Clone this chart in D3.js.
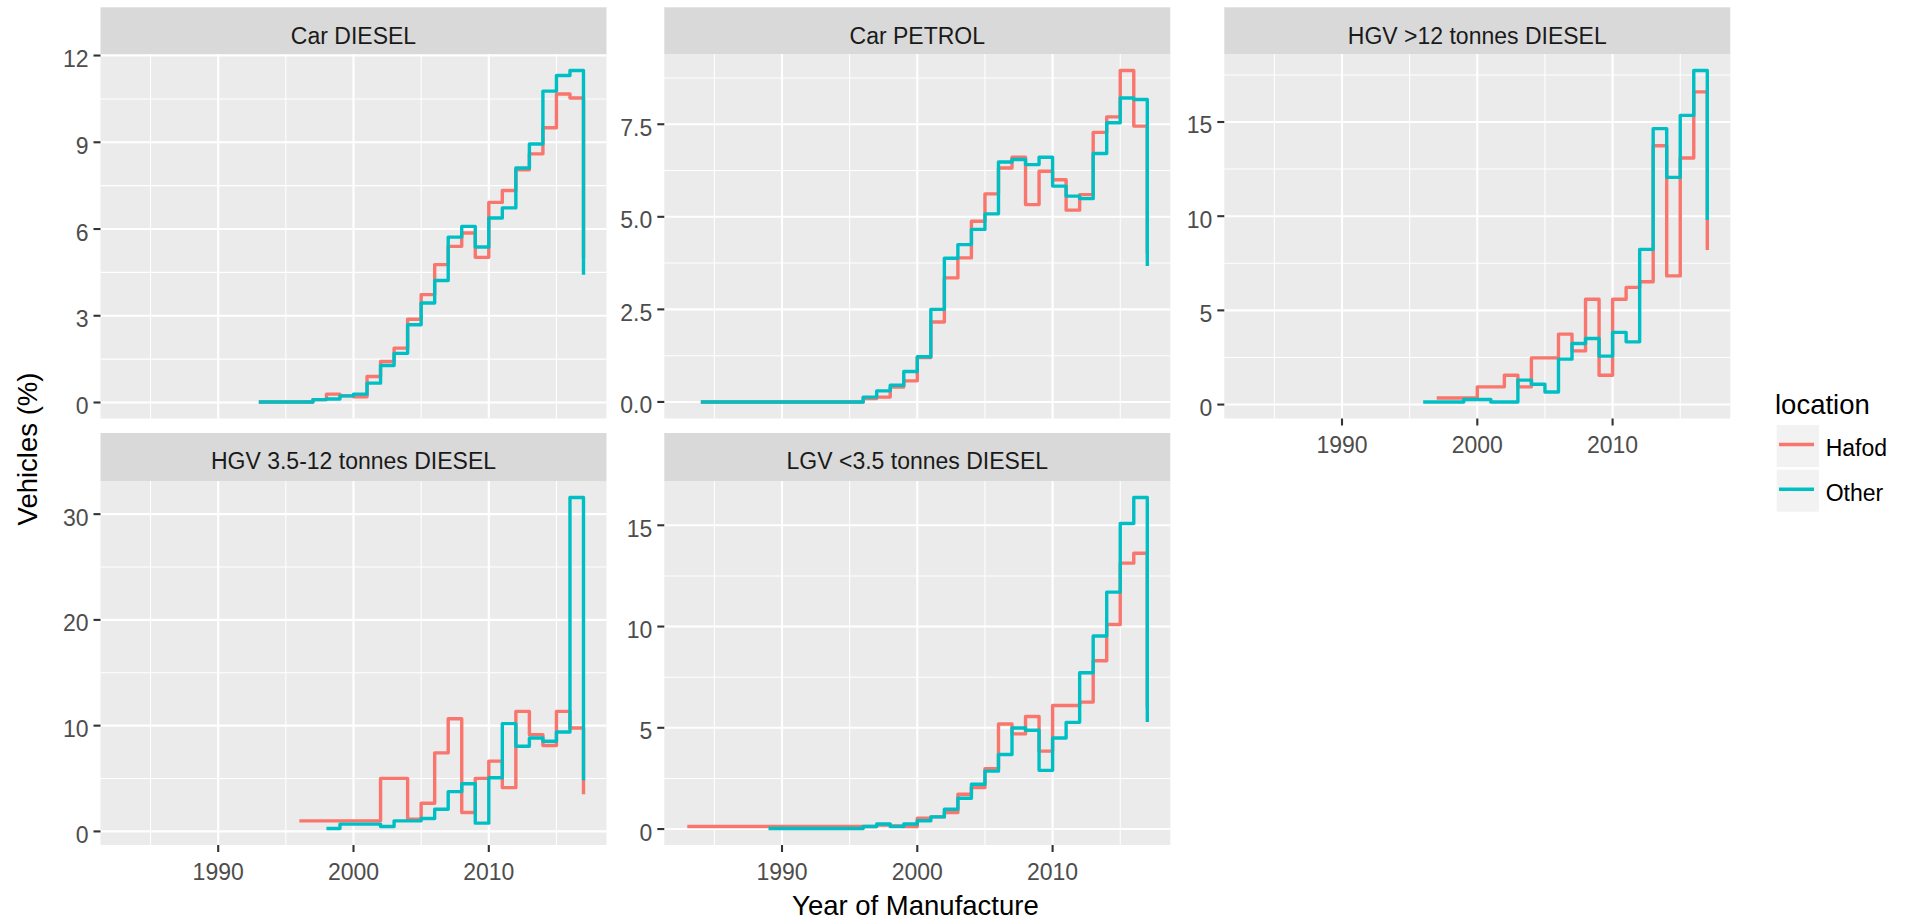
<!DOCTYPE html>
<html>
<head>
<meta charset="utf-8">
<script src="https://cdnjs.cloudflare.com/ajax/libs/d3/7.8.5/d3.min.js"></script>
<style>
  body { margin: 0; background: #fff; }
  text { font-family: Arial, "Liberation Sans", sans-serif; }
</style>
</head>
<body>
<svg id="chart" width="1908" height="922"></svg>
<script>
// facet labels, legend and colours
const panelNames = ['Car DIESEL', 'Car PETROL', 'HGV >12 tonnes DIESEL', 'HGV 3.5-12 tonnes DIESEL', 'LGV <3.5 tonnes DIESEL']
const locations = ['Hafod', 'Other']
const colours = ['#F8766D', '#00BFC4']

// x axis (year of manufacture)
const yearExtent = [1983, 2017]
const xTicks = [1990, 2000, 2010]
const xMinorTicks = [1985, 1995, 2005, 2015]

// y ticks per panel (free scales)
const yTicks = [[0, 3, 6, 9, 12], [0, 2.5, 5, 7.5], [0, 5, 10, 15], [0, 10, 20, 30], [0, 5, 10, 15]]
const yTickLabels = [['0', '3', '6', '9', '12'], ['0.0', '2.5', '5.0', '7.5'], ['0', '5', '10', '15'], ['0', '10', '20', '30'], ['0', '5', '10', '15']]

// first year of each series, [Hafod, Other]
const startYears = [[1993, 1993], [1984, 1984], [1997, 1996], [1996, 1998], [1983, 1989]]

// Vehicles (%) by year, one value per year from the start year to 2017
const carDieselHafod = [0.02, 0.02, 0.02, 0.02, 0.1, 0.29, 0.23, 0.2, 0.9, 1.42, 1.88, 2.88, 3.73, 4.77, 5.4, 5.86, 5.02, 6.92, 7.33, 8.05, 8.6, 9.5, 10.67, 10.53, 5.0]
const carDieselOther = [0.02, 0.02, 0.02, 0.02, 0.1, 0.12, 0.23, 0.29, 0.67, 1.28, 1.7, 2.69, 3.44, 4.22, 5.72, 6.09, 5.38, 6.38, 6.73, 8.11, 8.94, 10.77, 11.31, 11.48, 4.42]
const carPetrolHafod = [0, 0, 0, 0, 0, 0, 0, 0, 0, 0, 0, 0, 0.09, 0.13, 0.4, 0.57, 1.2, 2.16, 3.35, 3.89, 4.88, 5.62, 6.32, 6.61, 5.33, 6.23, 6.0, 5.18, 5.6, 7.28, 7.7, 8.95, 7.45, 4.0]
const carPetrolOther = [0, 0, 0, 0, 0, 0, 0, 0, 0, 0, 0, 0, 0.13, 0.3, 0.45, 0.82, 1.22, 2.5, 3.88, 4.25, 4.66, 5.08, 6.48, 6.55, 6.41, 6.61, 5.83, 5.56, 5.49, 6.71, 7.54, 8.21, 8.17, 3.67]
const hgvOver12Hafod = [0.35, 0.35, 0.35, 0.94, 0.94, 1.56, 0.94, 2.48, 2.48, 3.74, 2.85, 5.59, 1.56, 5.59, 6.22, 6.52, 13.74, 6.83, 13.09, 16.6, 8.21]
const hgvOver12Other = [0.14, 0.14, 0.14, 0.27, 0.27, 0.14, 0.14, 1.3, 1.08, 0.67, 2.41, 3.24, 3.51, 2.57, 3.83, 3.33, 8.24, 14.65, 12.06, 15.35, 17.73, 9.8]
const hgv35to12Hafod = [1.0, 1.0, 1.0, 1.0, 1.0, 1.0, 5.02, 5.02, 1.16, 2.66, 7.43, 10.66, 1.79, 5.02, 6.65, 4.14, 11.35, 9.15, 8.12, 11.35, 9.78, 3.51]
const hgv35to12Other = [0.28, 0.69, 0.69, 0.69, 0.47, 1.0, 1.0, 1.22, 2.1, 3.76, 4.51, 0.78, 5.08, 10.19, 8.06, 8.84, 8.53, 9.4, 31.57, 4.83]
const lgvHafod = [0.13, 0.13, 0.13, 0.13, 0.13, 0.13, 0.13, 0.13, 0.13, 0.13, 0.13, 0.13, 0.13, 0.13, 0.2, 0.15, 0.13, 0.54, 0.6, 0.82, 1.72, 2.05, 2.98, 5.19, 4.7, 5.56, 3.85, 6.1, 6.1, 6.27, 8.31, 10.1, 13.13, 13.62, 6.0]
const lgvOther = [0.03, 0.03, 0.03, 0.03, 0.03, 0.03, 0.03, 0.13, 0.25, 0.13, 0.25, 0.41, 0.6, 0.98, 1.52, 2.21, 2.86, 3.68, 4.99, 4.88, 2.9, 4.5, 5.27, 7.72, 9.53, 11.7, 15.09, 16.37, 5.29]

const panelValues = [
  [carDieselHafod, carDieselOther],
  [carPetrolHafod, carPetrolOther],
  [hgvOver12Hafod, hgvOver12Other],
  [hgv35to12Hafod, hgv35to12Other],
  [lgvHafod, lgvOther]
]

const conf = {
  colLeft: [100.5, 664.3, 1224.3],
  panelWidth: 506,
  stripTop: [7.3, 433],
  panelTop: [54, 481],
  panelBottom: [418.5, 845],
  tickLength: 7,
  tickFont: 23,
  titleFont: 27.5,
  lineWidth: 3.4,
  majorGrid: 2.1,
  minorGrid: 1.05
}

// ggplot style 5% expansion
function expand (lo, hi) {
  const r = hi - lo
  return [lo - 0.05 * r, hi + 0.05 * r]
}

// minor breaks half way between major breaks, one step beyond each end
function minorBreaks (ticks, domain) {
  const step = ticks[1] - ticks[0]
  const ext = [ticks[0] - step].concat(ticks, [ticks[ticks.length - 1] + step])
  const out = []
  for (let i = 0; i < ext.length - 1; i++) {
    const m = (ext[i] + ext[i + 1]) / 2
    if (m >= domain[0] && m <= domain[1]) out.push(m)
  }
  return out
}

const svg = d3.select('#chart')
const xDomain = expand(yearExtent[0], yearExtent[1])

panelNames.forEach((name, i) => {
  const row = Math.floor(i / 3)
  const col = i % 3
  const left = conf.colLeft[col]
  const right = left + conf.panelWidth
  const top = conf.panelTop[row]
  const bottom = conf.panelBottom[row]

  const all = panelValues[i][0].concat(panelValues[i][1])
  const yDomain = expand(d3.min(all), d3.max(all))

  const x = d3.scaleLinear().domain(xDomain).range([left, right])
  const y = d3.scaleLinear().domain(yDomain).range([bottom, top])

  const g = svg.append('g').attr('class', 'panel')

  // strip
  g.append('rect')
    .attr('x', left).attr('y', conf.stripTop[row])
    .attr('width', conf.panelWidth).attr('height', top - conf.stripTop[row])
    .attr('fill', '#D9D9D9')
  g.append('text')
    .attr('x', (left + right) / 2).attr('y', conf.stripTop[row] + 36.3)
    .attr('text-anchor', 'middle')
    .attr('font-size', conf.tickFont)
    .attr('fill', '#1A1A1A')
    .text(name)

  // panel background and grid
  g.append('rect')
    .attr('x', left).attr('y', top)
    .attr('width', conf.panelWidth).attr('height', bottom - top)
    .attr('fill', '#EBEBEB')

  const grid = g.append('g').attr('stroke', '#fff').attr('fill', 'none')
  minorBreaks(yTicks[i], yDomain).forEach(v => {
    grid.append('line').attr('x1', left).attr('x2', right).attr('y1', y(v)).attr('y2', y(v)).attr('stroke-width', conf.minorGrid)
  })
  xMinorTicks.forEach(v => {
    grid.append('line').attr('x1', x(v)).attr('x2', x(v)).attr('y1', top).attr('y2', bottom).attr('stroke-width', conf.minorGrid)
  })
  yTicks[i].forEach(v => {
    grid.append('line').attr('x1', left).attr('x2', right).attr('y1', y(v)).attr('y2', y(v)).attr('stroke-width', conf.majorGrid)
  })
  xTicks.forEach(v => {
    grid.append('line').attr('x1', x(v)).attr('x2', x(v)).attr('y1', top).attr('y2', bottom).attr('stroke-width', conf.majorGrid)
  })

  // step lines, Hafod first so Other sits on top
  const line = d3.line().x(d => x(d[0])).y(d => y(d[1])).curve(d3.curveStepAfter)
  panelValues[i].forEach((vals, k) => {
    const pts = vals.map((v, j) => [startYears[i][k] + j, v])
    g.append('path')
      .attr('d', line(pts))
      .attr('fill', 'none')
      .attr('stroke', colours[k])
      .attr('stroke-width', conf.lineWidth)
      .attr('stroke-linejoin', 'round')
  })

  // y axis
  yTicks[i].forEach((v, j) => {
    g.append('line')
      .attr('x1', left - conf.tickLength).attr('x2', left)
      .attr('y1', y(v)).attr('y2', y(v))
      .attr('stroke', '#333').attr('stroke-width', conf.majorGrid)
    g.append('text')
      .attr('x', left - conf.tickLength - 5).attr('y', y(v) + 11.5)
      .attr('text-anchor', 'end')
      .attr('font-size', conf.tickFont)
      .attr('fill', '#4D4D4D')
      .text(yTickLabels[i][j])
  })

  // x axis only under the lowest panel of each column
  if (row === 1 || col === 2) {
    xTicks.forEach(v => {
      g.append('line')
        .attr('x1', x(v)).attr('x2', x(v))
        .attr('y1', bottom).attr('y2', bottom + conf.tickLength)
        .attr('stroke', '#333').attr('stroke-width', conf.majorGrid)
      g.append('text')
        .attr('x', x(v)).attr('y', bottom + 34.5)
        .attr('text-anchor', 'middle')
        .attr('font-size', conf.tickFont)
        .attr('fill', '#4D4D4D')
        .text(v)
    })
  }
})

// axis titles
svg.append('text')
  .attr('x', (conf.colLeft[0] + conf.colLeft[2] + conf.panelWidth) / 2)
  .attr('y', 914.5)
  .attr('text-anchor', 'middle')
  .attr('font-size', conf.titleFont)
  .text('Year of Manufacture')

svg.append('text')
  .attr('transform', 'translate(36.5,449) rotate(-90)')
  .attr('text-anchor', 'middle')
  .attr('font-size', conf.titleFont)
  .text('Vehicles (%)')

// legend
const legend = svg.append('g').attr('class', 'legend')
legend.append('text')
  .attr('x', 1775).attr('y', 414)
  .attr('font-size', conf.titleFont)
  .text('location')

locations.forEach((loc, k) => {
  const ky = 425 + k * 44.7
  legend.append('rect')
    .attr('x', 1776.7).attr('y', ky)
    .attr('width', 42.3).attr('height', 42)
    .attr('fill', '#F2F2F2')
  legend.append('line')
    .attr('x1', 1779).attr('x2', 1814)
    .attr('y1', ky + 19.5).attr('y2', ky + 19.5)
    .attr('stroke', colours[k]).attr('stroke-width', conf.lineWidth)
  legend.append('text')
    .attr('x', 1825.7).attr('y', ky + 31)
    .attr('font-size', conf.tickFont)
    .text(loc)
})
</script>
</body>
</html>
